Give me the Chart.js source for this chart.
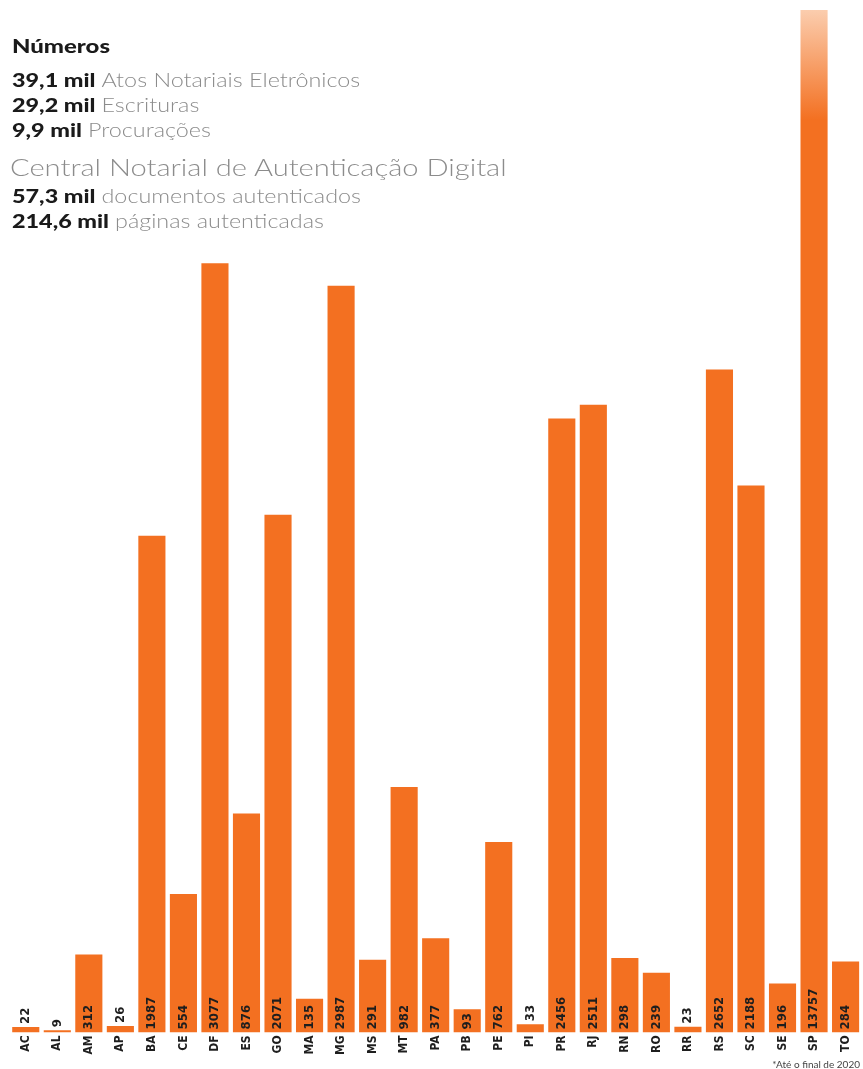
<!DOCTYPE html>
<html>
<head>
<meta charset="utf-8">
<script src="https://cdn.jsdelivr.net/npm/chart.js@4/dist/chart.umd.min.js"></script>
<style>
  html, body { margin: 0; padding: 0; background: #fff; }
  #wrap { position: relative; width: 863px; height: 1069px; }
  canvas { position: absolute; left: 0; top: 0; }
  .t { position: absolute; left: 12px; font-family: Lato, sans-serif; line-height: 1; white-space: nowrap;
       transform: scaleX(1.23); transform-origin: left top; }
  .t b { font-weight: 900; color: #1a1a1a; }
  .t span { font-weight: 300; color: #8c8c8c; }
  #note { position: absolute; right: 3px; top: 1058px; font-family: Lato, sans-serif; font-size: 10px; color: #444; }
</style>
</head>
<body>
<div id="wrap">
  <canvas id="chart" width="863" height="1069"></canvas>
  <div class="t" style="top:36px;font-size:19px;transform:scaleX(1.26);"><b>Números</b></div>
  <div class="t" style="top:70px;font-size:19px;"><b>39,1 mil</b> <span>Atos Notariais Eletrônicos</span></div>
  <div class="t" style="top:95px;font-size:19px;"><b>29,2 mil</b> <span>Escrituras</span></div>
  <div class="t" style="top:120px;font-size:19px;"><b>9,9 mil</b> <span>Procurações</span></div>
  <div class="t" style="top:156px;font-size:23.5px;left:10px;transform:scaleX(1.24);"><span>Central Notarial de Autenticação Digital</span></div>
  <div class="t" style="top:186px;font-size:19px;"><b>57,3 mil</b> <span>documentos autenticados</span></div>
  <div class="t" style="top:211px;font-size:19px;"><b>214,6 mil</b> <span>páginas autenticadas</span></div>
  <div id="note">*Até o final de 2020</div>
</div>
<script>
const states = ['AC', 'AL', 'AM', 'AP', 'BA', 'CE', 'DF', 'ES', 'GO', 'MA', 'MG', 'MS', 'MT', 'PA',
  'PB', 'PE', 'PI', 'PR', 'RJ', 'RN', 'RO', 'RR', 'RS', 'SC', 'SE', 'SP', 'TO'];
const atos = [22, 9, 312, 26, 1987, 554, 3077, 876, 2071, 135, 2987, 291, 982, 377,
  93, 762, 33, 2456, 2511, 298, 239, 23, 2652, 2188, 196, 13757, 284];
const yMax = 4090;

const orange = '#F37021';

const valueLabels = {
    id: 'valueLabels',
    afterDatasetsDraw(chart) {
        const ctx = chart.ctx;
        const meta = chart.getDatasetMeta(0);
        ctx.save();
        ctx.font = 'bold 13px "Liberation Sans Narrow", "DejaVu Sans Condensed", sans-serif';
        ctx.fillStyle = '#1e1e1e';
        ctx.textBaseline = 'middle';
        ctx.textAlign = 'left';
        meta.data.forEach((bar, i) => {
            const txt = String(atos[i]);
            const w = ctx.measureText(txt).width;
            const h = bar.base - Math.max(bar.y, chart.chartArea.top);
            ctx.save();
            // value sits at the bottom of the bar, or just above a bar too short for it
            const y0 = h >= w + 6 ? bar.base - 3 : bar.y - 3;
            ctx.translate(bar.x, y0);
            ctx.rotate(-Math.PI / 2);
            ctx.fillText(txt, 0, 0);
            ctx.restore();
        });
        ctx.restore();
    }
};

const barColor = (context) => {
    const chart = context.chart;
    const area = chart.chartArea;
    if (!area) return orange;
    if (atos[context.dataIndex] > yMax) {
        const g = chart.ctx.createLinearGradient(0, area.top, 0, area.top + 110);
        g.addColorStop(0, '#FBCDAE');
        g.addColorStop(1, orange);
        return g;
    }
    return orange;
};

new Chart(document.getElementById('chart'), {
    type: 'bar',
    data: {
        labels: states,
        datasets: [{
            data: atos,
            backgroundColor: barColor,
            borderWidth: 0,
            categoryPercentage: 1,
            barPercentage: 0.86
        }]
    },
    options: {
        responsive: false,
        animation: false,
        layout: { padding: { top: 10, left: 10, right: 1, bottom: 11 } },
        plugins: { legend: { display: false }, tooltip: { enabled: false } },
        scales: {
            x: {
                grid: { display: false, drawTicks: false },
                border: { display: false },
                ticks: {
                    minRotation: 90,
                    maxRotation: 90,
                    padding: 3,
                    color: '#1e1e1e',
                    font: { family: '"Liberation Sans Narrow", "DejaVu Sans Condensed", sans-serif', size: 12, weight: 'bold' }
                }
            },
            y: { display: false, min: 0, max: yMax }
        }
    },
    plugins: [valueLabels]
});
</script>
</body>
</html>
